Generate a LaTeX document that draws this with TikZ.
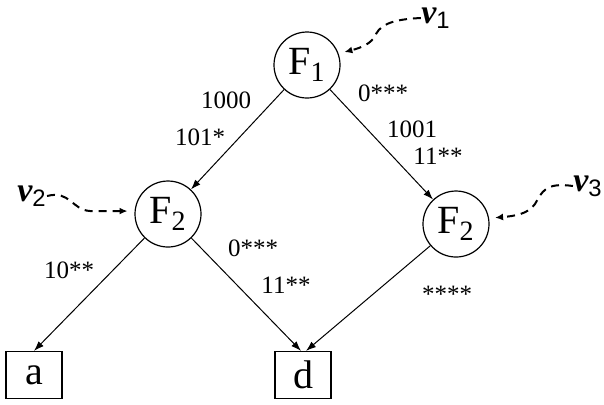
\documentclass[tikz,border=0pt]{standalone}
\usepackage{fontspec}
\setmainfont{Liberation Serif}
\setsansfont{Liberation Sans}
\usepackage{tikz}
\usetikzlibrary{arrows.meta}
\tikzset{
  fnode/.style={
    draw,
    circle,
    line width=0.6pt,
    minimum size=33pt,
    inner sep=0pt,
    font=\fontsize{20}{20}\selectfont
  },
  leaf/.style={
    draw,
    line width=0.6pt,
    minimum width=28pt,
    minimum height=23.5pt,
    inner sep=0pt,
    font=\fontsize{20}{20}\selectfont
  },
  lbl/.style={
    inner sep=0pt,
    font=\fontsize{12.5}{12.5}\selectfont
  },
  tag/.style={
    inner sep=0pt,
    font=\fontsize{17}{17}\selectfont\bfseries\itshape
  },
  hint/.style={
    dash pattern=on 4pt off 3pt,
    line width=1pt,
    -{Latex[length=4pt,width=3.5pt]}
  },
  every edge/.style={draw, -{Latex[length=5pt,width=3.5pt]}, line width=0.5pt}
}
\newcommand{\nutag}[1]{ν\textsubscript{\normalfont\sffamily #1}}

\begin{document}
\begin{tikzpicture}[x=0.5pt,y=-0.5pt]
  \useasboundingbox (0,0) rectangle (604,404);

  \node[fnode] (f1) at (307,65) {F\textsubscript{1}};
  \node[fnode] (f2l) at (168,214) {F\textsubscript{2}};
  \node[fnode] (f2r) at (456,224) {F\textsubscript{2}};
  \node[leaf] (a) at (34,375) {a};
  \node[leaf] (d) at (303,375) {d};

  \node[tag] (v1) at (436,18) {\nutag{1}};
  \node[tag] (v2) at (32,196) {\nutag{2}};
  \node[tag] (v3) at (588,186) {\nutag{3}};

  \node[lbl] (l1000) at (226,100) {1000};
  \node[lbl] (l101) at (200,137) {101*};
  \node[lbl] (l0a) at (383,93) {0***};
  \node[lbl] (l1001) at (412,129) {1001};
  \node[lbl] (l11a) at (438,156) {11**};
  \node[lbl] (l10) at (69,270) {10**};
  \node[lbl] (l0b) at (253,248) {0***};
  \node[lbl] (l11b) at (286,285) {11**};
  \node[lbl] (lstar) at (447,294) {****};

  \path (f1) edge (f2l)
        (f1) edge (f2r)
        (f2l) edge (a.north)
        (f2l) edge ([xshift=-1pt]d.north)
        (f2r) edge ([xshift=1.5pt]d.north);

  \draw[hint,shorten >=3pt] (v1.west) .. controls (400,19) and (382,22) .. (376,34)
    .. controls (372,44) and (360,48) .. (f1.20);
  \draw[hint,shorten >=3.5pt] (v2.east) .. controls (70,190) and (72,210) .. (90,211)
    -- (f2l.175);
  \draw[hint,shorten >=3pt] (v3.west) .. controls (545,182) and (542,192) .. (535,204)
    .. controls (528,214) and (515,216) .. (f2r.10);
\end{tikzpicture}
\end{document}
